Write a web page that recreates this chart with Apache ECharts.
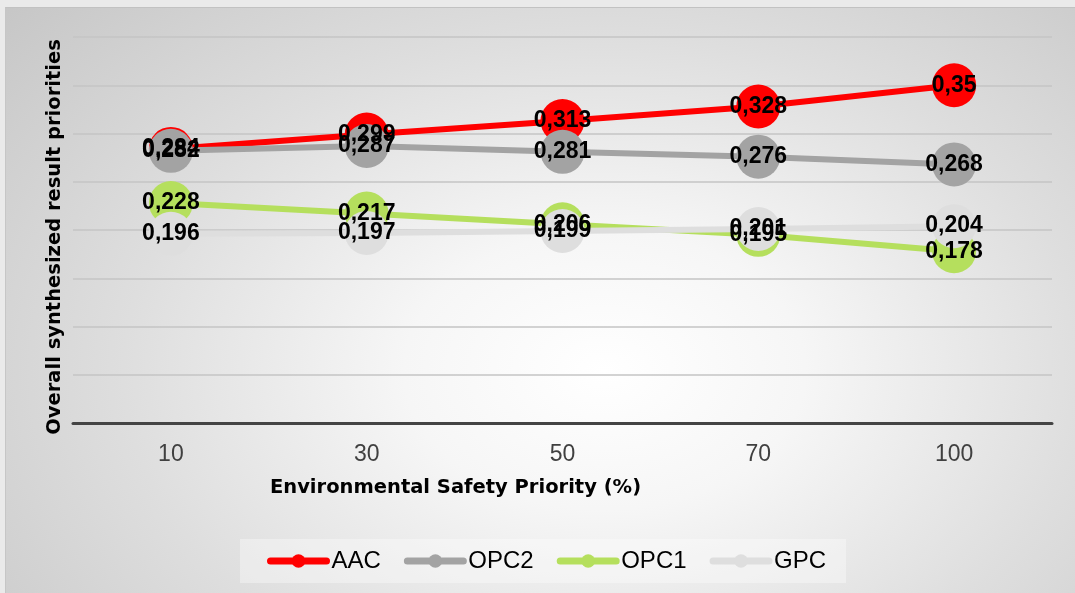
<!DOCTYPE html>
<html>
<head>
<meta charset="utf-8">
<script src="https://cdn.jsdelivr.net/npm/echarts@6/dist/echarts.min.js"></script>
<style>
  html, body { margin: 0; padding: 0; width: 1075px; height: 593px; overflow: hidden; background: #eaeaea; }
  #frame {
    position: absolute; left: 5px; top: 7px; right: 0; bottom: 0;
    border-left: 1px solid #c6c6c6; border-top: 1px solid #c2c2c2;
    background: radial-gradient(ellipse 75% 95% at 56% 62%, #ffffff 0%, #f6f6f6 25%, #dedede 60%, #c6c6c6 100%);
  }
  #chart { position: absolute; left: 0; top: 0; width: 1075px; height: 593px; }
</style>
</head>
<body>
<div id="frame"></div>
<div id="chart"></div>
<script>
// Environmental safety priority levels (%)
const categories = ['10', '30', '50', '70', '100'];

// Overall synthesized priorities per material
const aac  = [0.284, 0.299, 0.313, 0.328, 0.35];
const opc2 = [0.282, 0.287, 0.281, 0.276, 0.268];
const opc1 = [0.228, 0.217, 0.206, 0.195, 0.178];
const gpc  = [0.196, 0.197, 0.199, 0.201, 0.204];

const seriesNames = ['AAC', 'OPC2', 'OPC1', 'GPC'];
const seriesColors = ['#ff0000', '#a3a3a3', '#b5df5d', '#dedede'];
const seriesData = [aac, opc2, opc1, gpc];

const chart = echarts.init(document.getElementById('chart'), null, { renderer: 'canvas' });

const series = seriesNames.map((name, i) => ({
  name: name,
  type: 'line',
  data: seriesData[i],
  symbol: 'circle',
  symbolSize: 44,
  lineStyle: { width: 6, color: seriesColors[i] },
  itemStyle: { color: seriesColors[i] },
  label: {
    show: true,
    position: 'inside',
    formatter: p => String(p.value).replace('.', ','),
    fontFamily: 'Liberation Sans',
    fontWeight: 'bold',
    fontSize: 23,
    color: '#000'
  },
  emphasis: { disabled: true },
  animation: false
}));

chart.setOption({
  animation: false,
  backgroundColor: 'transparent',
  textStyle: { fontFamily: 'Liberation Sans' },
  grid: { left: 73, right: 23, top: 37, bottom: 170, containLabel: false },
  xAxis: {
    type: 'category',
    data: categories,
    boundaryGap: true,
    axisLine: { lineStyle: { color: '#444', width: 3 } },
    axisTick: { show: false },
    axisLabel: { fontSize: 23, color: '#404040', margin: 20, fontFamily: 'Liberation Sans' },
    name: 'Environmental Safety Priority (%)',
    nameLocation: 'middle',
    nameGap: 55,
    nameTextStyle: { fontSize: 19.5, fontWeight: 'bold', color: '#000', padding: [0, 214, 0, 0], fontFamily: 'DejaVu Sans' }
  },
  yAxis: {
    type: 'value',
    min: 0,
    max: 0.4,
    interval: 0.05,
    axisLabel: { show: false },
    axisLine: { show: false },
    axisTick: { show: false },
    splitLine: { lineStyle: { color: '#c4c4c4', width: 1.5 } },
    name: 'Overall synthesized result priorities',
    nameLocation: 'middle',
    nameGap: 8,
    nameRotate: 90,
    nameTextStyle: { fontSize: 19.5, fontWeight: 'bold', color: '#000', padding: [0, 14, 0, 0], fontFamily: 'DejaVu Sans' }
  },
  legend: {
    data: seriesNames,
    bottom: 10,
    left: 240,
    itemWidth: 56,
    itemHeight: 17,
    itemGap: 23,
    padding: [10, 20, 10, 27],
    backgroundColor: 'rgba(255,255,255,0.35)',
    lineStyle: { width: 7, cap: 'round' },
    itemStyle: { borderWidth: 0 },
    textStyle: { fontSize: 24, color: '#000', fontFamily: 'Liberation Sans' },
    selectedMode: false
  },
  series: series
});
</script>
</body>
</html>
